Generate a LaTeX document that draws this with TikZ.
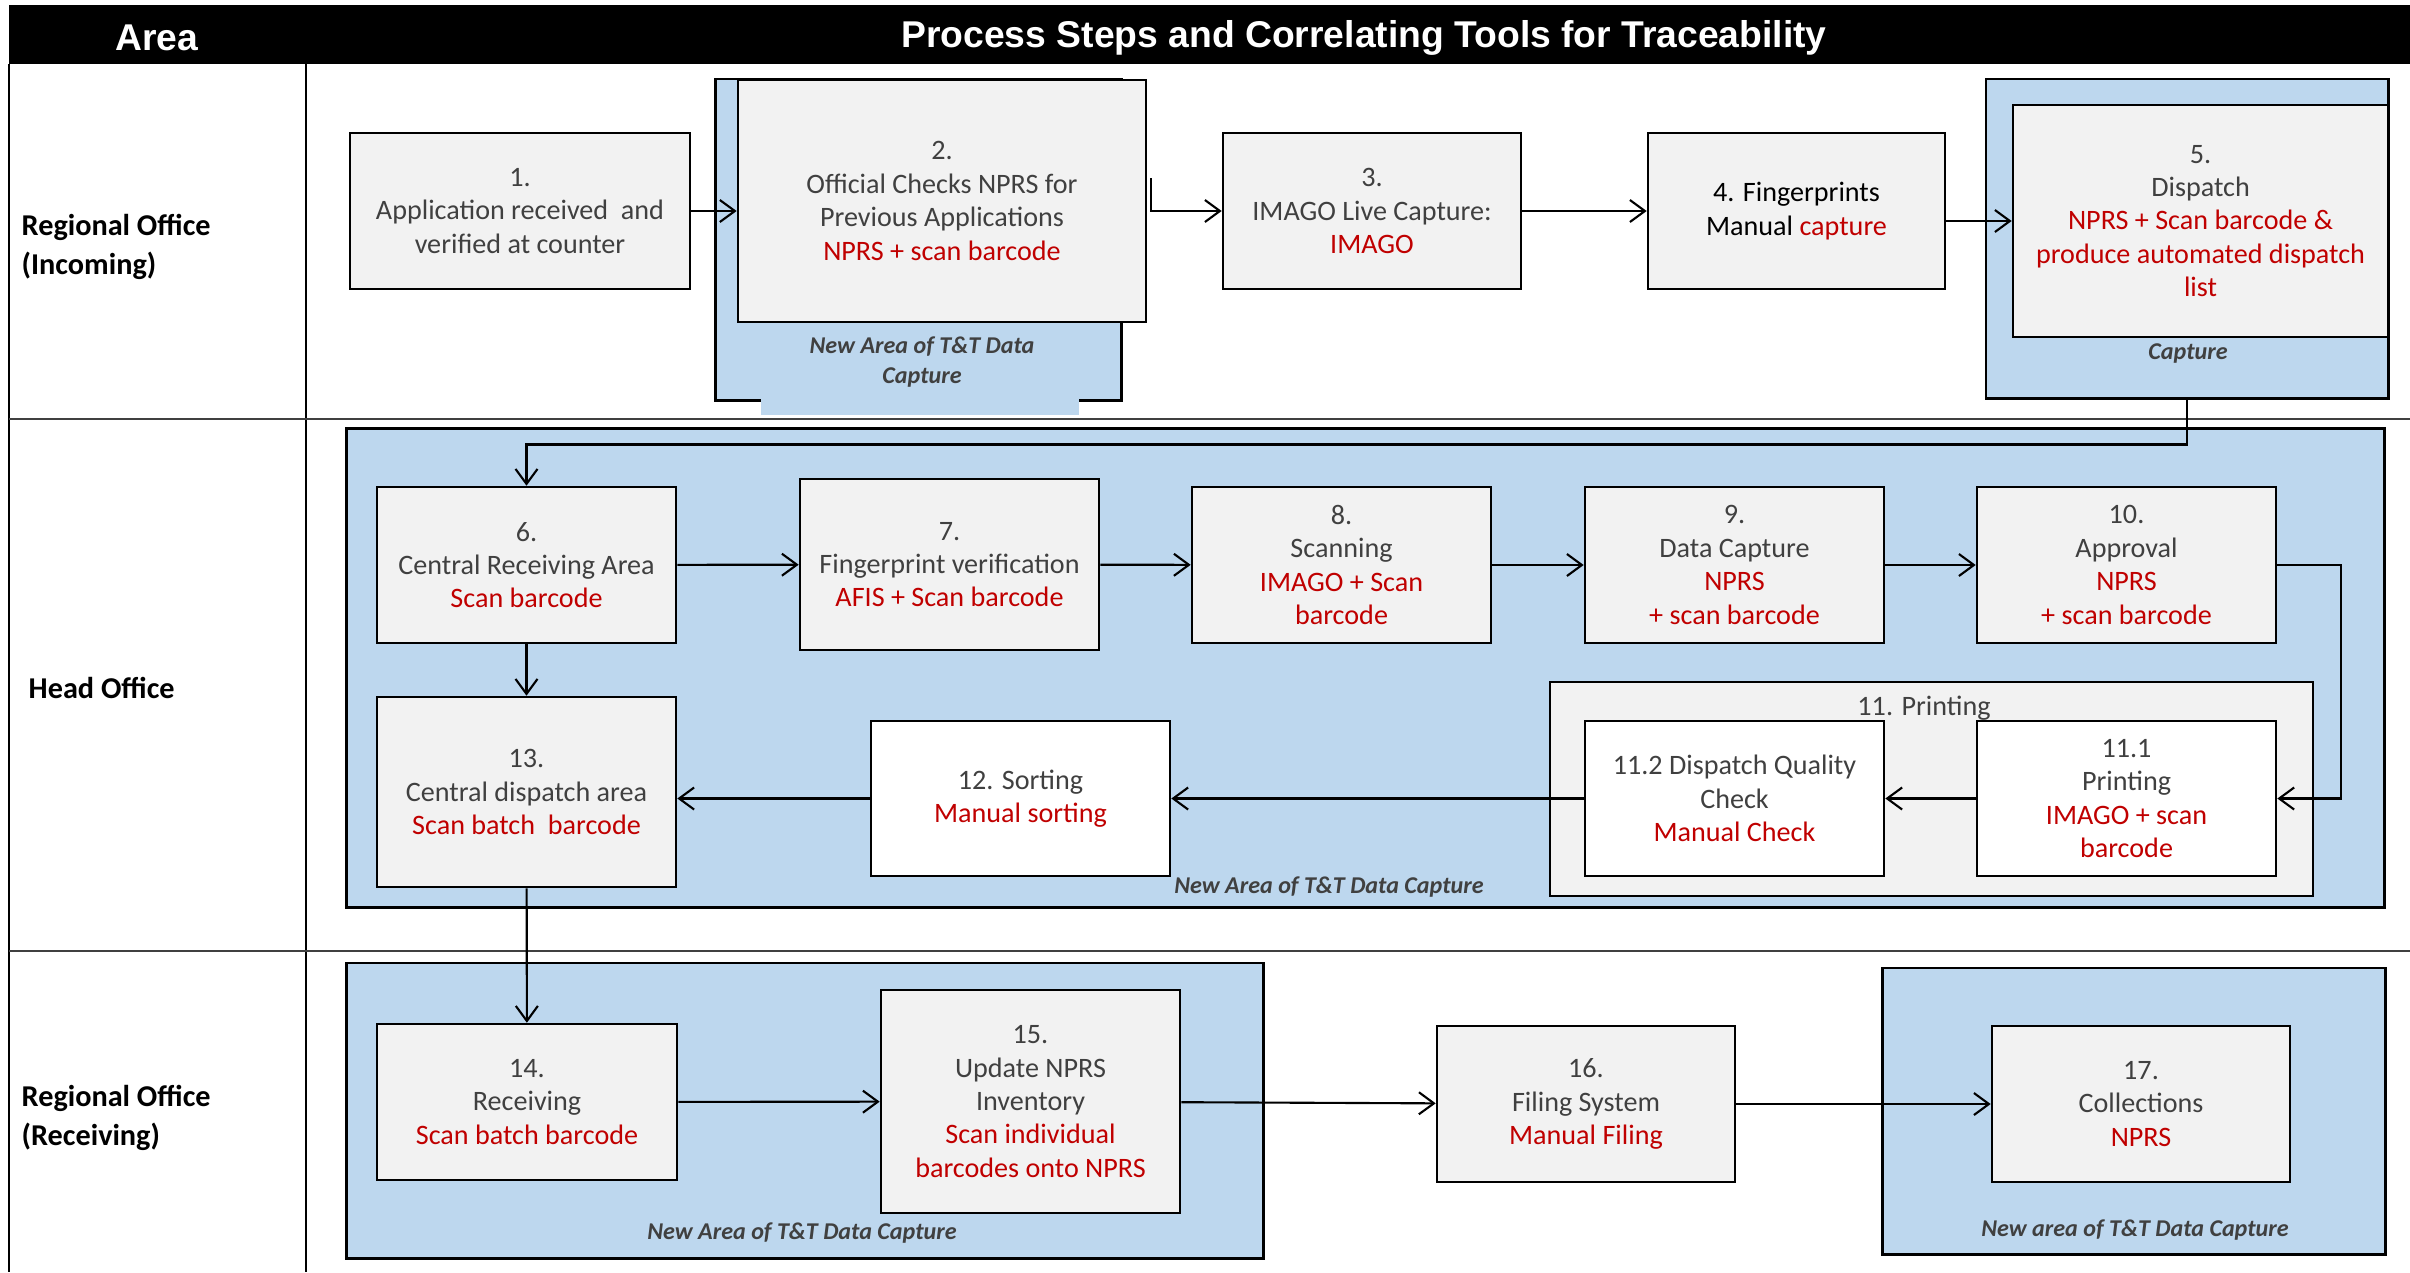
\documentclass[tikz,border=0pt]{standalone}
\usepackage{fontspec}
\usepackage{xcolor}
\usepackage{tikz}
\usetikzlibrary{arrows.meta, calc}
\setmainfont{Carlito}
\newfontfamily\headfont{Liberation Sans}

\definecolor{boxgray}{HTML}{F2F2F2}
\definecolor{areablue}{HTML}{BDD7EE}
\definecolor{toolred}{HTML}{C00000}
\definecolor{txtgray}{HTML}{404040}
\newcommand{\tool}[1]{\textcolor{toolred}{#1}}

\begin{document}
\begin{tikzpicture}[x=0.01cm, y=-0.01cm,
    stepbox/.style={draw, line width=0.7pt, rectangle, fill=boxgray, align=center, text=txtgray, font=\fontsize{8}{9.5}\selectfont, inner sep=1pt},
    whitebox/.style={stepbox, fill=white},
    newarea/.style={draw, line width=0.8pt, rectangle, fill=areablue},
    areanote/.style={font=\fontsize{6.85}{8.4}\selectfont\bfseries\itshape, text=txtgray, align=center},
    rowlabel/.style={anchor=west, align=left, inner sep=0pt, font=\fontsize{8.6}{10.9}\selectfont\bfseries},
    arr/.style={-{Straight Barb[length=1.5mm, width=2.2mm]}, line width=0.6pt}]
    \useasboundingbox (0,0) rectangle (2410,1272);

    % Table frame
    \fill[black] (9,5) rectangle (2410,64);
    \node[text=white, font=\headfont\fontsize{10.6}{12}\selectfont\bfseries] (areahead) at (157,38) {Area};
    \node[text=white, font=\headfont\fontsize{10.6}{12}\selectfont\bfseries] (stephead) at (1364,38) {Process Steps and Correlating Tools for Traceability};
    \draw[line width=0.5pt] (9,64) -- (9,1272);
    \draw[line width=0.5pt] (306,64) -- (306,1272);
    \draw[line width=0.7pt, black!75] (9,419) -- (2410,419);
    \draw[line width=0.7pt, black!75] (9,951) -- (2410,951);

    % Areas
    \node[rowlabel] (roin) at (21,247) {Regional Office\\(Incoming)};
    \node[rowlabel] (head) at (28,688) {Head Office};
    \node[rowlabel] (rorec) at (21,1118) {Regional Office\\(Receiving)};

    % New areas of data capture
    \node[newarea, minimum width=4.05cm, minimum height=3.21cm] (area2) at (918.5,239.5) {};
    \fill[areablue] (761,398) rectangle (1079,415);
    \node[newarea, minimum width=4.02cm, minimum height=3.19cm] (area5) at (2187,238.5) {};
    \node[newarea, minimum width=20.37cm, minimum height=4.78cm] (areaho) at (1365.5,668) {};
    \node[newarea, minimum width=9.16cm, minimum height=2.95cm] (arearec) at (805,1110.5) {};
    \node[newarea, minimum width=5.02cm, minimum height=2.86cm] (area17) at (2134,1111) {};
    \node[stepbox, minimum width=7.63cm, minimum height=2.14cm] (printing) at (1931.5,789) {};

    % Regional office (incoming)
    \node[stepbox, minimum width=3.40cm, minimum height=1.56cm] (s1) at (520,211) {1.\\Application received\ \ and\\verified at counter};
    \node[stepbox, minimum width=4.08cm, minimum height=2.42cm] (s2) at (942,201) {2.\\Official Checks NPRS for\\Previous Applications\\\tool{NPRS + scan barcode}};
    \node[stepbox, minimum width=2.98cm, minimum height=1.56cm] (s3) at (1372,211) {3.\\IMAGO Live Capture:\\\tool{IMAGO}};
    \node[stepbox, minimum width=2.97cm, minimum height=1.56cm, text=black] (s4) at (1796.5,211) {4. Fingerprints\\Manual \tool{capture}};
    \node[stepbox, minimum width=3.75cm, minimum height=2.32cm] (s5) at (2200.5,221) {5.\\Dispatch\\\tool{NPRS + Scan barcode \&}\\\tool{produce automated dispatch}\\\tool{list}};

    % Head office
    \node[stepbox, minimum width=2.99cm, minimum height=1.56cm] (s6) at (526.5,565) {6.\\Central Receiving Area\\\tool{Scan barcode}};
    \node[stepbox, minimum width=2.99cm, minimum height=1.71cm] (s7) at (949.5,564.5) {7.\\Fingerprint verification\\\tool{AFIS + Scan barcode}};
    \node[stepbox, minimum width=2.99cm, minimum height=1.56cm] (s8) at (1341.5,565) {8.\\Scanning\\\tool{IMAGO + Scan}\\\tool{barcode}};
    \node[stepbox, minimum width=2.99cm, minimum height=1.56cm] (s9) at (1734.5,565) {9.\\Data Capture\\\tool{NPRS}\\\tool{+ scan barcode}};
    \node[stepbox, minimum width=2.99cm, minimum height=1.56cm] (s10) at (2126.5,565) {10.\\Approval\\\tool{NPRS}\\\tool{+ scan barcode}};
    \node[text=txtgray, font=\fontsize{8}{9.5}\selectfont] (printlbl) at (1924,708) {11. Printing};
    \node[whitebox, minimum width=2.99cm, minimum height=1.55cm] (s11a) at (2126.5,798.5) {11.1\\Printing\\\tool{IMAGO + scan}\\\tool{barcode}};
    \node[whitebox, minimum width=2.99cm, minimum height=1.55cm] (s11b) at (1734.5,798.5) {11.2 Dispatch Quality\\Check\\\tool{Manual Check}};
    \node[whitebox, minimum width=2.99cm, minimum height=1.55cm] (s12) at (1020.5,798.5) {12. Sorting\\\tool{Manual sorting}};
    \node[stepbox, minimum width=2.99cm, minimum height=1.90cm] (s13) at (526.5,792) {13.\\Central dispatch area\\\tool{Scan batch\ \ barcode}};

    % Regional office (receiving)
    \node[stepbox, minimum width=3.00cm, minimum height=1.56cm] (s14) at (527,1102) {14.\\Receiving\\\tool{Scan batch barcode}};
    \node[stepbox, minimum width=2.99cm, minimum height=2.23cm] (s15) at (1030.5,1101.5) {15.\\Update NPRS\\Inventory\\\tool{Scan individual}\\\tool{barcodes onto NPRS}};
    \node[stepbox, minimum width=2.98cm, minimum height=1.56cm] (s16) at (1586,1104) {16.\\Filing System\\\tool{Manual Filing}};
    \node[stepbox, minimum width=2.98cm, minimum height=1.56cm] (s17) at (2141,1104) {17.\\Collections\\\tool{NPRS}};

    % Notes
    \node[areanote] (note2) at (922,362) {New Area of T\&T Data\\Capture};
    \node[areanote] (note5) at (2188,353) {Capture};
    \node[areanote] (noteho) at (1329,887) {New Area of T\&T Data Capture};
    \node[areanote] (noterec) at (802,1233) {New Area of T\&T Data Capture};
    \node[areanote] (note17) at (2135,1230) {New area of T\&T Data Capture};

    % Connections
    \draw[arr] (s1.east) -- (s1.east -| s2.west);
    \draw[arr] ($(s2.east)+(4,-23)$) |- (s3.west);
    \draw[arr] (s3) -- (s4);
    \draw[arr] (s4.east |- s5.west) -- (s5.west);
    \draw[arr] (area5.south) -- ++(0,45) -| (s6.north);
    \draw[arr] (s6) -- (s7);
    \draw[arr] (s7) -- (s8);
    \draw[arr] (s8) -- (s9);
    \draw[arr] (s9) -- (s10);
    \draw[arr] (s10.east) -- ++(64,0) |- (s11a.east);
    \draw[arr] (s11a) -- (s11b);
    \draw[arr] (s11b) -- (s12);
    \draw[arr] (s12.west) -- (s12.west -| s13.east);
    \draw[arr] (s6) -- (s13);
    \draw[arr] (s13) -- (s14);
    \draw[arr] (s14) -- (s15);
    \draw[arr] (s15) -- (s16);
    \draw[arr] (s16) -- (s17);
\end{tikzpicture}
\end{document}
